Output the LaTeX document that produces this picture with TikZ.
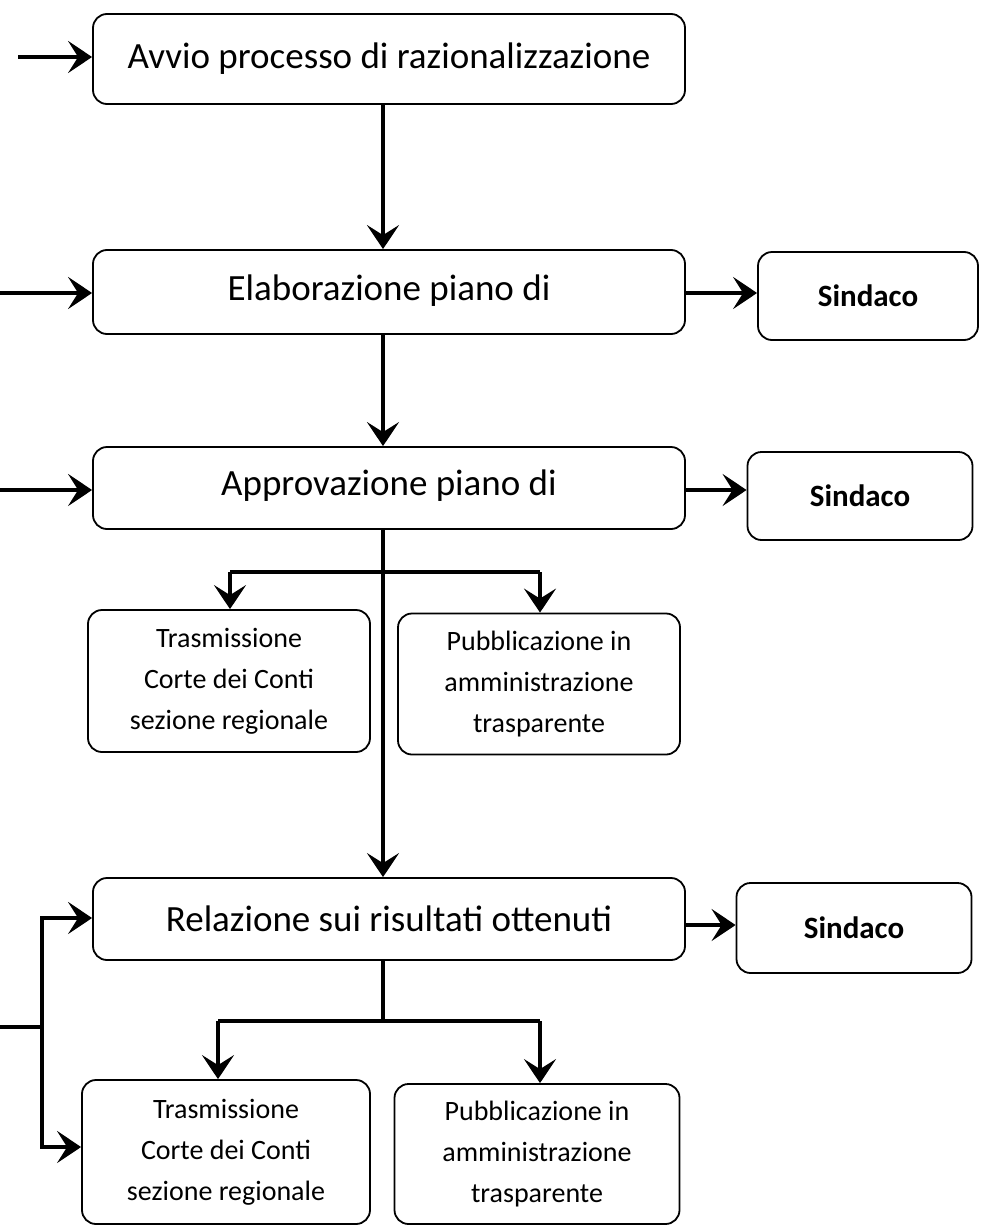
\documentclass[tikz,border=0pt]{standalone}
\usepackage{fontspec}
\setmainfont{Carlito}
\usetikzlibrary{arrows.meta}
\begin{document}
\begin{tikzpicture}[x=1pt,y=-1pt,
  box/.style={draw=black,line width=1.8pt,rounded corners=14pt,fill=white,align=center,inner sep=0pt},
  bigbox/.style={box,minimum width=592pt,font=\fontsize{37}{44}\selectfont},
  smallbox/.style={box,font=\fontsize{28}{41}\selectfont},
  sbox/.style={box,font=\fontsize{31}{36}\selectfont\bfseries},
  conn/.style={line width=3.8pt,-{Stealth[length=24pt,width=32pt,inset=10pt]}},
  plain/.style={line width=3.8pt}]
\useasboundingbox (0,0) rectangle (981,1231);
% main boxes
\node[bigbox,minimum height=90pt] (avvio) at (389,59) {Avvio processo di razionalizzazione};
\node[bigbox,minimum height=84pt] (elab) at (389,292) {\raisebox{8pt}{Elaborazione piano di}};
\node[bigbox,minimum height=82pt] (appr) at (389,488) {\raisebox{10pt}{Approvazione piano di}};
\node[bigbox,minimum height=82pt] (rel) at (389,919) {Relazione sui risultati ottenuti};
% sindaco boxes
\node[sbox,minimum width=220pt,minimum height=88pt] (s1) at (868,296) {Sindaco};
\node[sbox,minimum width=225pt,minimum height=88pt] (s2) at (860,496) {Sindaco};
\node[sbox,minimum width=235pt,minimum height=90pt] (s3) at (854,928) {Sindaco};
% lower boxes
\node[smallbox,minimum width=282pt,minimum height=142pt] (t1) at (229,681) {Trasmissione\\Corte dei Conti\\sezione regionale};
\node[smallbox,minimum width=282pt,minimum height=141pt] (p1) at (539,684) {Pubblicazione in\\amministrazione\\trasparente};
\node[smallbox,minimum width=288pt,minimum height=144pt] (t2) at (226,1152) {Trasmissione\\Corte dei Conti\\sezione regionale};
\node[smallbox,minimum width=285pt,minimum height=140pt] (p2) at (537,1154) {Pubblicazione in\\amministrazione\\trasparente};
% free ends
\coordinate (in1) at (18,57);
\coordinate (in2) at (0,293);
\coordinate (in3) at (0,490);
\coordinate (br1) at (383,572);
\coordinate (br2) at (383,1021);
\coordinate (lv) at (42,1027);
\coordinate (lin) at (0,1027);
% connectors
\draw[conn] (in1) -- (avvio.west |- in1);
\draw[conn] (in2) -- (elab.west |- in2);
\draw[conn] (in3) -- (appr.west |- in3);
\draw[conn] (avvio.south -| br1) -- (elab.north -| br1);
\draw[conn] (elab.south -| br1) -- (appr.north -| br1);
\draw[conn] (appr.south -| br1) -- (rel.north -| br1);
\draw[conn] (elab.east |- 0,293) -- (s1.west |- 0,293);
\draw[conn] (appr.east |- 0,490) -- (s2.west |- 0,490);
\draw[conn] (rel.east |- 0,925) -- (s3.west |- 0,925);
\draw[plain] (230,572) -- (540,572);
\draw[conn] (230,572) -- (t1.north -| 230,0);
\draw[conn] (540,572) -- (p1.north -| 540,0);
\draw[plain] (rel.south -| br2) -- (br2);
\draw[plain] (218,1021) -- (540,1021);
\draw[conn] (218,1021) -- (t2.north -| 218,0);
\draw[conn] (540,1021) -- (p2.north -| 540,0);
\draw[plain] (lin) -- (lv);
\draw[conn] (42,1147) |- (rel.west |- 0,918);
\draw[conn] (42,917) |- (t2.west |- 0,1147);
\end{tikzpicture}
\end{document}
